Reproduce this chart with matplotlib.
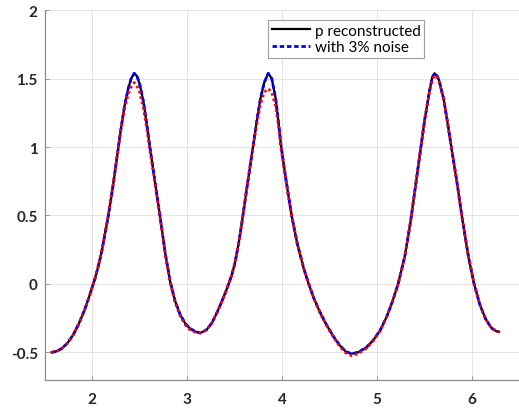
import matplotlib
matplotlib.use("Agg")
import matplotlib.pyplot as plt

# ---- data ----
x_vals = [1.571, 1.62, 1.68, 1.74, 1.80, 1.86, 1.92, 1.97, 2.03, 2.063,
          2.10, 2.168, 2.22, 2.263, 2.30, 2.34, 2.38, 2.41, 2.442, 2.47,
          2.50, 2.54, 2.58, 2.607, 2.66, 2.713, 2.77, 2.82, 2.87, 2.923,
          2.98, 3.028, 3.09, 3.141, 3.204, 3.26, 3.31, 3.36, 3.41, 3.467,
          3.50, 3.54, 3.572, 3.63, 3.688, 3.73, 3.77, 3.81, 3.853, 3.89,
          3.93, 3.96, 3.986, 4.04, 4.099, 4.16, 4.228, 4.274, 4.33, 4.40,
          4.467, 4.54, 4.607, 4.67, 4.73, 4.80, 4.888, 4.96, 5.03, 5.10,
          5.16, 5.22, 5.29, 5.35, 5.40, 5.45, 5.50, 5.55, 5.58, 5.604,
          5.63, 5.65, 5.70, 5.74, 5.78, 5.84, 5.89, 5.96, 6.02, 6.08,
          6.14, 6.20, 6.25, 6.283]

p_reconstructed = [-0.500, -0.494, -0.472, -0.432, -0.372, -0.29, -0.19, -0.09, 0.04, 0.125,
                   0.235, 0.49, 0.72, 0.935, 1.12, 1.30, 1.43, 1.50, 1.539, 1.52,
                   1.46, 1.33, 1.14, 1.00, 0.75, 0.50, 0.22, 0.02, -0.12, -0.22,
                   -0.29, -0.325, -0.35, -0.358, -0.335, -0.285, -0.215, -0.135, -0.05, 0.06,
                   0.145, 0.29, 0.43, 0.71, 0.98, 1.18, 1.35, 1.47, 1.539, 1.50,
                   1.36, 1.19, 1.02, 0.76, 0.50, 0.29, 0.11, 0.01, -0.10, -0.21,
                   -0.30, -0.385, -0.45, -0.495, -0.51, -0.50, -0.463, -0.41, -0.34, -0.24,
                   -0.13, 0.00, 0.20, 0.45, 0.70, 0.95, 1.20, 1.41, 1.51, 1.539,
                   1.52, 1.49, 1.35, 1.18, 1.00, 0.74, 0.50, 0.20, 0.00, -0.15,
                   -0.255, -0.32, -0.345, -0.35]

with_noise = [-0.500, -0.494, -0.472, -0.432, -0.372, -0.29, -0.19, -0.09, 0.04, 0.125,
              0.235, 0.49, 0.72, 0.935, 1.12, 1.30, 1.43, 1.50, 1.539, 1.52,
              1.46, 1.33, 1.14, 1.00, 0.75, 0.50, 0.22, 0.02, -0.12, -0.22,
              -0.29, -0.325, -0.35, -0.358, -0.335, -0.285, -0.215, -0.135, -0.05, 0.06,
              0.145, 0.29, 0.43, 0.71, 0.98, 1.18, 1.35, 1.47, 1.539, 1.50,
              1.36, 1.19, 1.02, 0.76, 0.50, 0.29, 0.11, 0.01, -0.10, -0.21,
              -0.30, -0.385, -0.45, -0.495, -0.51, -0.50, -0.463, -0.41, -0.34, -0.24,
              -0.13, 0.00, 0.20, 0.45, 0.70, 0.95, 1.20, 1.41, 1.51, 1.539,
              1.52, 1.49, 1.35, 1.18, 1.00, 0.74, 0.50, 0.20, 0.00, -0.15,
              -0.255, -0.32, -0.345, -0.35]

p_exact = [-0.500, -0.494, -0.472, -0.432, -0.372, -0.29, -0.19, -0.09, 0.045, 0.13,
           0.245, 0.50, 0.73, 0.94, 1.12, 1.28, 1.39, 1.44, 1.471, 1.45,
           1.40, 1.28, 1.11, 0.98, 0.74, 0.49, 0.21, 0.01, -0.13, -0.23,
           -0.30, -0.335, -0.355, -0.36, -0.335, -0.285, -0.215, -0.135, -0.05, 0.06,
           0.145, 0.29, 0.43, 0.71, 0.98, 1.16, 1.31, 1.40, 1.427, 1.40,
           1.30, 1.16, 1.00, 0.75, 0.50, 0.29, 0.11, 0.01, -0.10, -0.215,
           -0.305, -0.39, -0.46, -0.505, -0.525, -0.51, -0.47, -0.415, -0.345, -0.24,
           -0.13, 0.00, 0.20, 0.45, 0.70, 0.95, 1.20, 1.40, 1.49, 1.525,
           1.51, 1.48, 1.35, 1.18, 1.00, 0.74, 0.50, 0.20, 0.00, -0.15,
           -0.255, -0.32, -0.345, -0.35]

x_ticks = [2, 3, 4, 5, 6]
x_ticklabels = ["2", "3", "4", "5", "6"]
y_ticks = [-0.5, 0, 0.5, 1, 1.5, 2]
y_ticklabels = ["-0.5", "0", "0.5", "1", "1.5", "2"]

W, H = 519, 410
fig = plt.figure(figsize=(W / 100, H / 100), dpi=100)
ax = fig.add_axes([44.7 / W, 29.3 / H, 475 / W, 369.5 / H])

ax.plot(x_vals, p_reconstructed, color="black", lw=1.6, label="p reconstructed", zorder=3)
ax.plot(x_vals, with_noise, color="#0000ff", lw=2.0, ls=(0, (1.6, 1.0)), label="with 3% noise", zorder=4)
ax.plot(x_vals, p_exact, color="#ff0000", lw=2.0, ls=(0, (0.9, 1.1)), zorder=5)

ax.set_xlim(1.5, 6.5)
ax.set_ylim(-0.7, 2)
ax.set_xticks(x_ticks)
ax.set_xticklabels(x_ticklabels)
ax.set_yticks(y_ticks)
ax.set_yticklabels(y_ticklabels)

ax.grid(True, color="#e4e4e4", lw=0.7)
ax.set_axisbelow(True)
for s in ["top", "right"]:
    ax.spines[s].set_visible(False)
for s in ["left", "bottom"]:
    ax.spines[s].set_color("#8a8a8a")
    ax.spines[s].set_linewidth(0.9)

ax.tick_params(direction="in", length=3, width=0.6, colors="#8a8a8a",
               labelcolor="#262626")
ax.tick_params(axis="x", pad=9)
ax.tick_params(axis="y", pad=5)
for lab in ax.get_xticklabels() + ax.get_yticklabels():
    lab.set_fontfamily("Lato")
    lab.set_fontweight("bold")
    lab.set_fontsize(11)

leg = ax.legend(loc="upper left", bbox_to_anchor=(268 / W, 1 - 21 / H),
                bbox_transform=fig.transFigure, borderaxespad=0,
                fancybox=False, framealpha=1, edgecolor="#a0a0a0",
                prop={"family": "Lato", "size": 11},
                handlelength=2.5, handletextpad=0.3, borderpad=0.25,
                labelspacing=0.15)
leg.get_frame().set_linewidth(0.8)

fig.savefig("out.png", dpi=100)
